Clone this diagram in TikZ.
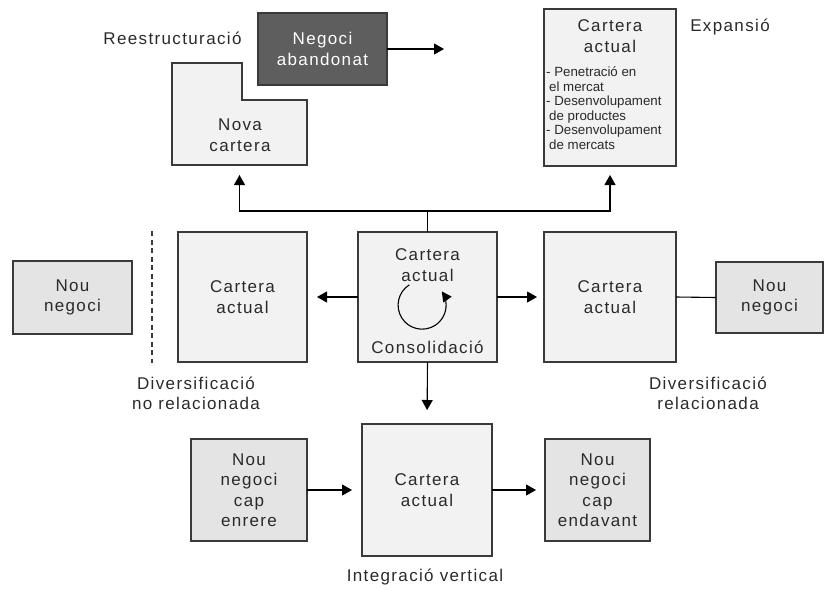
\documentclass[tikz,border=0pt]{standalone}
\usepackage{fontspec}
\setmainfont{Liberation Sans}[LetterSpace=8]
\newfontfamily\listfont{Liberation Sans}
\usetikzlibrary{arrows.meta,calc}
\definecolor{edge}{HTML}{3A3A3A}
\definecolor{ink}{HTML}{2A2A2A}
\definecolor{lightfill}{HTML}{F2F2F2}
\definecolor{midfill}{HTML}{E4E4E4}
\definecolor{darkfill}{HTML}{5E5E5E}
\tikzset{
  box/.style={draw=edge, line width=1.1pt, fill=lightfill, inner sep=0pt, outer sep=0pt},
  newbox/.style={box, fill=midfill},
  darkbox/.style={box, fill=darkfill, text=white},
  txt/.style={text=ink, font=\fontsize{17}{20.5}\selectfont, align=center, inner sep=0pt},
  conn/.style={draw=black, line width=1.1pt},
  arr/.style={conn, -{Triangle[width=11pt,length=10pt]}},
}
\begin{document}
\begin{tikzpicture}[x=1pt,y=-1pt]
\useasboundingbox (0,0) rectangle (824,590);

% Restructuring: abandoned business and new portfolio
\node[darkbox, minimum width=129, minimum height=72, txt, text=white] (neg) at (322.5,49) {Negoci\\abandonat};
\coordinate (negout) at (444,49);
\draw[arr] (neg.east) -- (negout);
\node[txt, anchor=center] (reest) at (172.5,38) {Reestructuració};

\node[minimum width=135, minimum height=102, inner sep=0pt, outer sep=0pt] (nova) at (239.5,114) {};
\draw[box] (nova.south west) -- (nova.north west) -- (242,63) -- (242,100) -- (307,100) -- (nova.south east) -- cycle;
\node[txt] (novatxt) at (240,135) {Nova\\cartera};

% Expansion
\node[box, minimum width=132, minimum height=157] (exp) at (610,87.5) {};
\node[txt] (exptitle) at (610,36) {Cartera\\actual};
\node[text=ink, anchor=north west, align=left, inner sep=0pt,
      font=\listfont\fontsize{13.3}{14.6}\selectfont] (explist) at (546,66.5)
  {- Penetració en\\\hspace{3pt}el mercat\\- Desenvolupament\\\hspace{3pt}de productes\\- Desenvolupament\\\hspace{3pt}de mercats};
\node[txt] (expl) at (730,27) {Expansió};

% Middle row
\node[newbox, minimum width=119, minimum height=73, txt] (nouL) at (72.5,297.5) {Nou\\negoci};
\coordinate (dashtop) at (152,231);
\coordinate (dashbot) at (152,363);
\draw[draw=edge, line width=1.1pt, dash pattern=on 5pt off 3.5pt] (dashtop) -- (dashbot);
\node[box, minimum width=129, minimum height=130, txt] (cL) at (242.5,297) {Cartera\\actual};
\node[box, minimum width=139, minimum height=130] (cC) at (427.5,297) {};
\node[txt] (cCtitle) at (427.5,265) {Cartera\\actual};
\node[txt] (cons) at (427.5,347) {Consolidació};
% consolidation loop, running counter-clockwise round to an upward tip
\node[minimum size=48, inner sep=0pt] (loop) at (424.5,309) {};
\draw[line width=1.1pt, -{Triangle[width=10pt,length=10pt]}] (loop.122) arc[start angle=-122, end angle=-395, radius=24];
\node[box, minimum width=132, minimum height=130, txt] (cR) at (610,297) {Cartera\\actual};
\node[newbox, minimum width=107, minimum height=71, txt] (nouR) at (769.5,297.5) {Nou\\negoci};
\node[txt] (divno) at (196,393.5) {Diversificació\\no relacionada};
\node[txt] (divrel) at (708,393.5) {Diversificació\\relacionada};

\draw[arr, shorten >=10pt] (cC.west) -- (cL.east);
\draw[arr, shorten >=7pt] (cC.east) -- (cR.west);
\draw[conn] (cR.east) -- (nouR.west);

% Branches upward
\coordinate (j) at (427.5,211);
\draw[conn] (cC.north) -- (j);
\draw[arr, shorten >=10pt] (j) -| (nova.south);
\draw[arr, shorten >=9pt] (j) -| (exp.south);

% Vertical integration
\node[newbox, minimum width=116, minimum height=102, txt] (back) at (249,490) {Nou\\negoci\\cap\\enrere};
\node[box, minimum width=130, minimum height=132, txt] (cB) at (427,490) {Cartera\\actual};
\node[newbox, minimum width=105, minimum height=102, txt] (fwd) at (597.5,490) {Nou\\negoci\\cap\\endavant};
\node[txt] (intv) at (425,577) {Integració vertical};

\draw[arr, shorten >=14pt] (cC.south) -- (cB.north);
\draw[arr, shorten >=10pt] (back.east) -- (cB.west);
\draw[arr, shorten >=9pt] (cB.east) -- (fwd.west);
\end{tikzpicture}
\end{document}
